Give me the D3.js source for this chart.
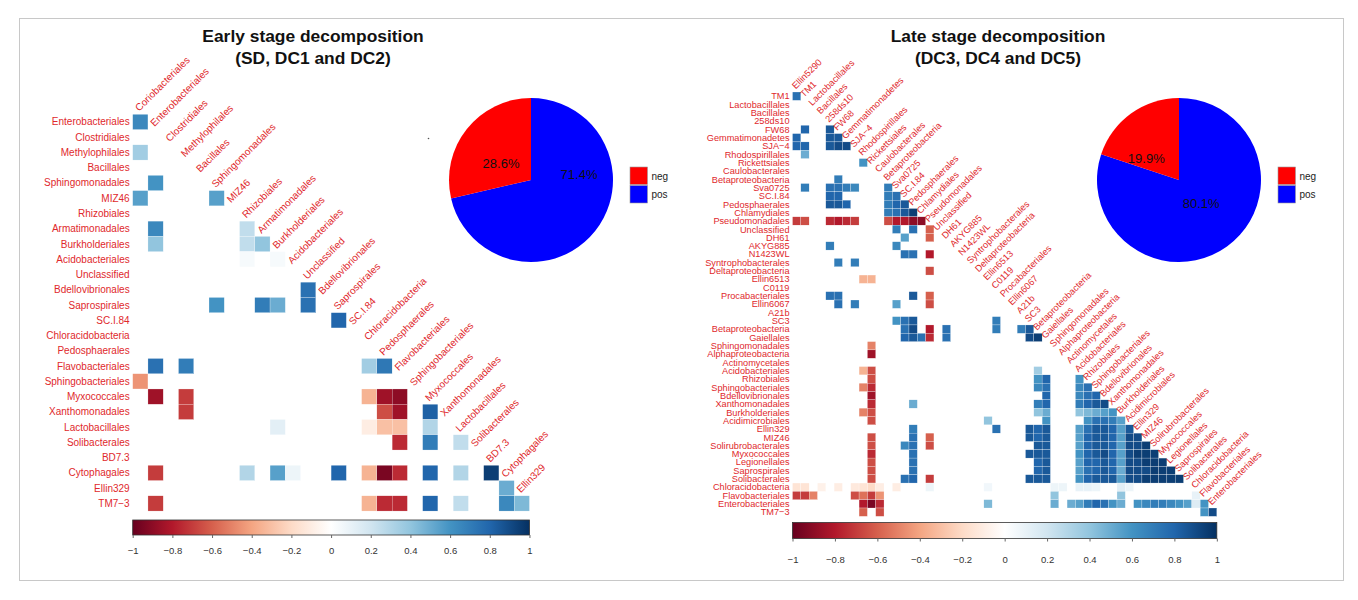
<!DOCTYPE html>
<html>
<head>
<meta charset="utf-8">
<script src="https://cdn.jsdelivr.net/npm/d3@7"></script>
<style>
  html, body { margin: 0; padding: 0; background: #fff; }
  svg { display: block; font-family: "Liberation Sans", Arial, sans-serif; }
</style>
</head>
<body>
<svg id="chart" width="1358" height="600"></svg>
<script>
// ---- Data -------------------------------------------------------------
// Early stage: taxa in matrix order (columns = first 26, rows = last 26)
const earlyTaxa = ["Coriobacteriales","Enterobacteriales","Clostridiales","Methylophilales","Bacillales",
  "Sphingomonadales","MIZ46","Rhizobiales","Armatimonadales","Burkholderiales","Acidobacteriales",
  "Unclassified","Bdellovibrionales","Saprospirales","SC.I.84","Chloracidobacteria","Pedosphaerales",
  "Flavobacteriales","Sphingobacteriales","Myxococcales","Xanthomonadales","Lactobacillales",
  "Solibacterales","BD7.3","Cytophagales","Ellin329","TM7\u22123"];

// Early stage correlations: [row, column, r]
const earlyCorr = [
  [0,0,0.65],[2,0,0.35],[4,1,0.6],[5,0,0.55],[5,5,0.55],
  [7,1,0.65],[7,7,0.25],[8,1,0.4],[8,7,0.25],[8,8,0.4],[9,7,0.04],[9,9,0.04],
  [11,11,0.75],[12,5,0.6],[12,8,0.7],[12,9,0.5],[12,11,0.75],[13,13,0.8],
  [16,1,0.75],[16,3,0.7],[16,15,0.35],[16,16,0.72],[17,0,-0.45],
  [18,1,-0.85],[18,3,-0.7],[18,15,-0.35],[18,16,-0.85],[18,17,-0.9],
  [19,3,-0.7],[19,16,-0.65],[19,17,-0.85],[19,19,0.82],
  [20,9,0.12],[20,15,-0.1],[20,16,-0.3],[20,17,-0.3],[20,19,0.3],
  [21,17,-0.75],[21,19,0.7],[21,21,0.25],
  [23,1,-0.7],[23,7,0.3],[23,9,0.55],[23,10,0.08],[23,13,0.8],[23,15,-0.35],[23,16,-0.95],
  [23,17,-0.75],[23,19,0.8],[23,21,0.3],[23,23,0.95],
  [24,24,0.5],
  [25,1,-0.7],[25,15,-0.35],[25,16,-0.75],[25,17,-0.75],[25,19,0.8],[25,21,0.25],[25,24,0.65],[25,25,0.45]
];

// Late stage: taxa in matrix order (columns = first 51, rows = last 51)
const lateTaxa = ["Ellin5290","TM1","Lactobacillales","Bacillales","258ds10","FW68","Gemmatimonadetes",
  "SJA\u22124","Rhodospirillales","Rickettsiales","Caulobacterales","Betaproteobacteria","Sva0725",
  "SC.I.84","Pedosphaerales","Chlamydiales","Pseudomonadales","Unclassified","DH61","AKYG885",
  "N1423WL","Syntrophobacterales","Deltaproteobacteria","Ellin6513","C0119","Procabacteriales",
  "Ellin6067","A21b","SC3","Betaproteobacteria","Gaiellales","Sphingomonadales","Alphaproteobacteria",
  "Actinomycetales","Acidobacteriales","Rhizobiales","Sphingobacteriales","Bdellovibrionales",
  "Xanthomonadales","Burkholderiales","Acidimicrobiales","Ellin329","MIZ46","Solirubrobacterales",
  "Myxococcales","Legionellales","Saprospirales","Solibacterales","Chloracidobacteria",
  "Flavobacteriales","Enterobacteriales","TM7\u22123"];

// Late stage correlations: [row, column, r]
const lateCorr = [
  [0,0,0.75],
  [4,1,0.8],[4,4,0.85],
  [5,0,0.8],[5,4,0.85],[5,5,0.85],
  [6,0,0.8],[6,1,0.8],[6,4,0.85],[6,5,0.9],[6,6,0.9],
  [7,1,0.5],[8,8,0.6],[10,5,0.7],
  [11,1,0.7],[11,4,0.75],[11,5,0.75],[11,6,0.7],[11,7,0.65],[11,11,0.7],
  [12,4,0.8],[12,5,0.8],[12,11,0.7],[12,12,0.75],
  [13,4,0.85],[13,5,0.85],[13,6,0.8],[13,11,0.7],[13,12,0.8],[13,13,0.85],
  [14,11,0.7],[14,12,0.75],[14,13,0.85],[14,14,0.95],
  [15,0,-0.7],[15,1,-0.65],[15,4,-0.75],[15,5,-0.8],[15,6,-0.75],[15,7,-0.7],
  [15,11,-0.65],[15,12,-0.8],[15,13,-0.8],[15,14,-0.9],[15,15,-0.9],
  [16,12,0.7],[16,14,0.75],[16,16,-0.6],
  [17,13,0.55],[17,16,-0.6],
  [18,4,0.7],[18,12,0.65],
  [19,13,0.75],[19,14,0.75],[19,16,-0.8],
  [20,5,0.7],[20,7,0.7],
  [21,16,-0.65],
  [22,8,-0.35],[22,9,-0.35],
  [24,4,0.75],[24,5,0.75],[24,14,0.85],[24,16,-0.6],
  [25,5,0.75],[25,7,0.7],[25,12,0.55],[25,16,-0.65],
  [27,12,0.6],[27,13,0.75],[27,14,0.85],[27,24,0.7],
  [28,13,0.75],[28,14,0.9],[28,16,-0.8],[28,18,0.75],[28,24,0.7],[28,27,0.7],[28,28,0.85],
  [29,13,0.8],[29,14,0.85],[29,15,0.75],[29,16,-0.75],[29,18,0.75],[29,28,0.9],[29,29,0.95],
  [30,9,-0.5],[31,9,-0.85],
  [33,8,-0.35],[33,9,-0.65],[33,29,0.35],
  [34,9,-0.65],[34,29,0.6],[34,30,0.8],[34,34,0.6],
  [35,8,-0.5],[35,9,-0.75],[35,29,0.65],[35,30,0.75],[35,34,0.65],[35,35,0.75],
  [36,9,-0.85],[36,30,0.8],[36,34,0.65],[36,35,0.75],[36,36,0.8],
  [37,9,-0.75],[37,14,0.5],[37,29,0.7],[37,30,0.8],[37,34,0.7],[37,35,0.8],[37,36,0.85],[37,37,0.9],
  [38,8,-0.5],[38,9,-0.65],[38,29,0.4],[38,30,0.5],[38,34,0.4],[38,35,0.45],[38,36,0.5],[38,37,0.55],[38,38,0.6],
  [39,9,-0.65],[39,23,0.4],[39,30,0.6],[39,35,0.6],[39,36,0.75],[39,37,0.75],[39,38,0.7],[39,39,0.55],
  [40,14,0.7],[40,24,0.75],[40,28,0.85],[40,29,0.8],[40,30,0.85],[40,34,0.55],[40,35,0.75],[40,36,0.85],
  [40,37,0.85],[40,38,0.8],[40,39,0.55],[40,40,0.85],
  [41,9,-0.65],[41,14,0.75],[41,16,-0.6],[41,28,0.85],[41,29,0.8],[41,30,0.85],[41,34,0.55],[41,35,0.8],
  [41,36,0.85],[41,37,0.85],[41,38,0.8],[41,39,0.55],[41,40,0.9],[41,41,0.9],
  [42,9,-0.65],[42,13,0.65],[42,14,0.75],[42,16,-0.65],[42,29,0.85],[42,30,0.85],[42,34,0.55],[42,35,0.8],
  [42,36,0.85],[42,37,0.85],[42,38,0.8],[42,39,0.55],[42,40,0.9],[42,41,0.9],[42,42,0.95],
  [43,9,-0.75],[43,14,0.75],[43,28,0.85],[43,29,0.85],[43,30,0.85],[43,34,0.6],[43,35,0.8],[43,36,0.85],
  [43,37,0.9],[43,38,0.8],[43,39,0.55],[43,40,0.9],[43,41,0.95],[43,42,0.95],[43,43,0.95],
  [44,9,-0.65],[44,14,0.75],[44,29,0.8],[44,30,0.85],[44,34,0.55],[44,35,0.8],[44,36,0.8],[44,37,0.85],
  [44,38,0.8],[44,39,0.55],[44,40,0.9],[44,41,0.9],[44,42,0.95],[44,43,0.95],[44,44,0.95],
  [45,9,-0.65],[45,14,0.75],[45,29,0.8],[45,30,0.85],[45,34,0.55],[45,35,0.75],[45,36,0.8],[45,37,0.85],
  [45,38,0.8],[45,39,0.5],[45,40,0.9],[45,41,0.9],[45,42,0.9],[45,43,0.95],[45,44,0.95],[45,45,0.95],
  [46,9,-0.65],[46,13,0.75],[46,14,0.8],[46,16,-0.7],[46,28,0.85],[46,29,0.85],[46,30,0.85],[46,34,0.6],
  [46,35,0.8],[46,36,0.85],[46,37,0.85],[46,38,0.85],[46,39,0.55],[46,40,0.9],[46,41,0.9],[46,42,0.95],
  [46,43,0.95],[46,44,0.95],[46,45,0.95],[46,46,0.95],
  [47,0,-0.15],[47,1,-0.15],[47,3,-0.08],[47,5,-0.1],[47,7,-0.12],[47,8,-0.15],[47,9,-0.2],[47,10,-0.1],
  [47,12,-0.1],[47,16,0.08],[47,23,0.06],[47,31,0.08],[47,32,0.08],[47,34,0.1],[47,35,0.1],[47,36,0.08],
  [47,39,0.12],[47,40,0.08],
  [48,0,-0.7],[48,1,-0.7],[48,2,-0.5],[48,7,-0.65],[48,8,-0.55],[48,9,-0.7],[48,10,-0.45],
  [48,31,0.4],[48,39,0.4],[48,48,0.1],
  [49,8,-0.8],[49,9,-0.95],[49,10,-0.75],[49,23,0.45],[49,31,0.5],[49,33,0.5],[49,34,0.55],[49,35,0.7],
  [49,36,0.8],[49,37,0.75],[49,38,0.6],[49,39,0.5],[49,41,0.6],[49,42,0.65],[49,43,0.7],[49,44,0.7],
  [49,45,0.65],[49,46,0.6],[49,47,0.55],[49,48,0.15],[49,49,0.6],
  [50,8,-0.6],[50,10,-0.65],[50,49,0.6],[50,50,0.9]
];

// Share of negative / positive correlations
const pieCategories = ["neg", "pos"];
const earlyShare = [28.6, 71.4];
const lateShare = [19.9, 80.1];

// Colour bar ticks
const barTicks = [-1, -0.8, -0.6, -0.4, -0.2, 0, 0.2, 0.4, 0.6, 0.8, 1];

// ---- Drawing ---------------------------------------------------------
const svg = d3.select("#chart");
const labelRed = "#e0282c";

// RdBu diverging palette with a white centre
const rdbu = ["#67001F","#B2182B","#D6604D","#F4A582","#FDDBC7","#FFFFFF",
              "#D1E5F0","#92C5DE","#4393C3","#2166AC","#053061"];
const color = d3.scaleLinear()
  .domain(d3.range(11).map(i => -1 + i * 0.2))
  .range(rdbu)
  .interpolate(d3.interpolateRgb)
  .clamp(true);

// outer frame
svg.append("rect").attr("x", 19.5).attr("y", 18.5).attr("width", 1324).attr("height", 562)
  .attr("fill", "none").attr("stroke", "#c8c8c8").attr("stroke-width", 1);

// gradient for colour bars
const grad = svg.append("defs").append("linearGradient").attr("id", "rdbuGrad");
rdbu.forEach((c, i) => grad.append("stop").attr("offset", (i * 10) + "%").attr("stop-color", c));

function drawMatrix(cfg) {
  const g = svg.append("g");
  const n = cfg.taxa.length - 1;
  const rows = cfg.taxa.slice(1);
  const cols = cfg.taxa.slice(0, n);
  const x = d3.scaleBand().domain(d3.range(n)).range([cfg.x0, cfg.x0 + n * cfg.cell]).padding(0);
  const y = d3.scaleBand().domain(d3.range(n)).range([cfg.y0, cfg.y0 + n * cfg.cell]).padding(0);

  // cells
  g.append("g").selectAll("rect").data(cfg.data).join("rect")
    .attr("x", d => x(d[1]))
    .attr("y", d => y(d[0]))
    .attr("width", x.bandwidth())
    .attr("height", y.bandwidth())
    .attr("fill", d => color(d[2]))
    .attr("stroke", "#fff")
    .attr("stroke-width", 0.25);

  // row labels on the left
  g.append("g").selectAll("text").data(rows).join("text")
    .attr("x", cfg.x0 - 3)
    .attr("y", (d, i) => y(i) + y.bandwidth() / 2)
    .attr("dy", "0.35em")
    .attr("text-anchor", "end")
    .attr("font-size", cfg.font)
    .attr("fill", labelRed)
    .text(d => d);

  // column labels along the diagonal
  g.append("g").selectAll("text").data(cols).join("text")
    .attr("transform", (d, j) => {
      const tx = x(j) + x.bandwidth() / 2 - 1;
      const ty = y(j) - 2.5;
      return `translate(${tx},${ty}) rotate(-45)`;
    })
    .attr("text-anchor", "start")
    .attr("font-size", cfg.font)
    .attr("fill", labelRed)
    .text(d => d);

  // colour bar
  const bx = d3.scaleLinear().domain([-1, 1]).range([cfg.x0, cfg.x0 + n * cfg.cell]);
  const bar = g.append("g");
  bar.append("rect")
    .attr("x", bx(-1)).attr("y", cfg.barY)
    .attr("width", bx(1) - bx(-1)).attr("height", cfg.barH)
    .attr("fill", "url(#rdbuGrad)")
    .attr("stroke", "#333").attr("stroke-width", 0.8);
  const axis = d3.axisBottom(bx).tickValues(barTicks).tickSize(3).tickPadding(cfg.tickPad)
    .tickFormat(d => d3.format("")(d).replace("-", "\u2212"));
  const ax = bar.append("g").attr("transform", `translate(0,${cfg.barY + cfg.barH})`).call(axis);
  ax.select(".domain").remove();
  ax.selectAll("line").attr("stroke", "#666");
  ax.selectAll("text").attr("font-size", 9.5).attr("fill", "#333")
    .attr("font-family", "'Liberation Sans', Arial, sans-serif");
}

drawMatrix({ taxa: earlyTaxa, data: earlyCorr, x0: 132.7, y0: 114.3, cell: 15.26, font: 10,
             barY: 520, barH: 15, tickPad: 9 });
drawMatrix({ taxa: lateTaxa, data: lateCorr, x0: 792.5, y0: 92, cell: 8.32, font: 9.2,
             barY: 522.5, barH: 16, tickPad: 15 });

// titles
function title(cx, lines) {
  lines.forEach((t, i) => {
    svg.append("text").attr("x", cx).attr("y", 42 + i * 22)
      .attr("text-anchor", "middle").attr("font-size", 17.4).attr("font-weight", "bold")
      .attr("fill", "#111").text(t);
  });
}
title(313, ["Early stage decomposition", "(SD, DC1 and DC2)"]);
title(998, ["Late stage decomposition", "(DC3, DC4 and DC5)"]);

// pies
const pieColors = d3.scaleOrdinal().domain(pieCategories).range(["#ff0000", "#0000ff"]);
function drawPie(cfg) {
  const g = svg.append("g").attr("transform", `translate(${cfg.cx},${cfg.cy})`);
  const items = pieCategories.map((c, i) => ({ cat: c, value: cfg.share[i] }));
  // positive share starts at twelve o'clock, clockwise
  const arcs = d3.pie().sort(null).value(d => d.value)([items[1], items[0]]);
  const arc = d3.arc().innerRadius(0).outerRadius(cfg.r);
  g.selectAll("path").data(arcs).join("path")
    .attr("d", arc).attr("fill", d => pieColors(d.data.cat));
  arcs.forEach(a => {
    const lp = cfg.labelPolar[a.data.cat];
    const ang = lp[0] * Math.PI / 180;
    g.append("text")
      .attr("x", Math.sin(ang) * lp[1] * cfg.r)
      .attr("y", -Math.cos(ang) * lp[1] * cfg.r)
      .attr("dy", "0.35em").attr("text-anchor", "middle")
      .attr("font-size", 13).attr("fill", "#111")
      .text(d3.format(".1f")(a.data.value) + "%");
  });
  // legend
  const lg = svg.append("g").attr("transform", `translate(${cfg.cx + 99},${cfg.cy - 13})`);
  pieCategories.forEach((c, i) => {
    lg.append("rect").attr("x", 0).attr("y", i * 18.5).attr("width", 17.5).attr("height", 17.5)
      .attr("fill", pieColors(c)).attr("stroke", "#999").attr("stroke-width", 0.6);
    lg.append("text").attr("x", 21.5).attr("y", i * 18.5 + 9).attr("dy", "0.35em")
      .attr("font-size", 10).attr("fill", "#222").text(c);
  });
}
drawPie({ cx: 531, cy: 180, r: 82, share: earlyShare,
          labelPolar: { neg: [299.5, 0.42], pos: [83, 0.59] } });
drawPie({ cx: 1179, cy: 180, r: 82, share: lateShare,
          labelPolar: { neg: [303.7, 0.48], pos: [136, 0.39] } });

// small marker left of the early pie
svg.append("circle").attr("cx", 428.5).attr("cy", 138.5).attr("r", 0.8).attr("fill", "#555");
</script>
</body>
</html>
